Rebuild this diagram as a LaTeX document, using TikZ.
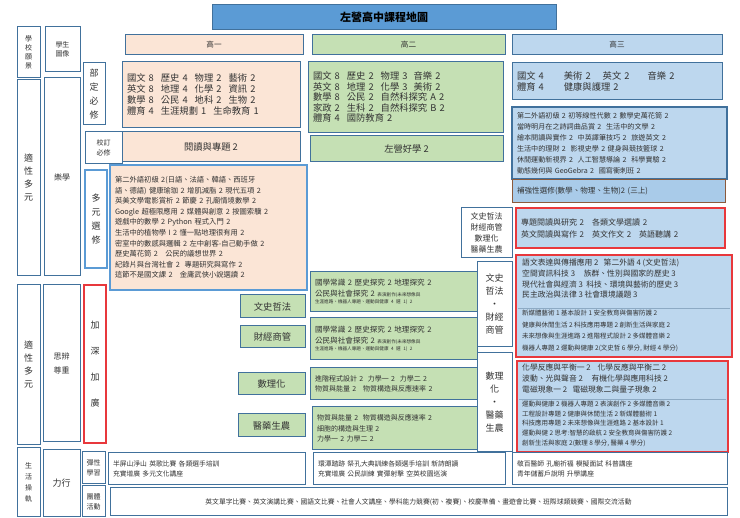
\documentclass[tikz,border=0pt]{standalone}
\usepackage{fontspec}
\setmainfont{Noto Sans CJK TC}
\begin{document}
\begin{tikzpicture}[x=1pt,y=-1pt]
\definecolor{bl}{HTML}{41719C}
\definecolor{pe}{HTML}{FBE5D6}
\definecolor{gr}{HTML}{C5E0B4}
\definecolor{lb}{HTML}{BDD7EE}
\definecolor{tb}{HTML}{5B9BD5}
\definecolor{rd}{HTML}{E8383C}
\definecolor{br}{HTML}{8B5A3C}
\definecolor{tx}{HTML}{333333}
\tikzset{
 bb/.style={draw=bl,line width=1pt,inner sep=0pt,text=tx},
 pp/.style={bb,fill=pe},
 gg/.style={bb,fill=gr},
 ll/.style={bb,fill=lb},
 rr/.style={draw=rd,line width=1.2pt,fill=lb,inner sep=0pt,text=tx},
 ww/.style={bb,fill=white},
 f1/.style={font=\fontsize{9.3}{15.5}\selectfont},
 f2/.style={font=\fontsize{7.6}{10.5}\selectfont},
}
\newcommand\bx[7]{\node[#6,minimum width={#4-#2},minimum height={#5-#3},align=center] (#1) at ({(#2+#4)/2},{(#3+#5)/2}) {#7};}
\newcommand\bxl[7]{\node[#6,minimum width={#4-#2},minimum height={#5-#3},text width={#4-#2-10},inner xsep=5pt,align=left] (#1) at ({(#2+#4)/2},{(#3+#5)/2}) {#7};}
\fill[white] (0,0) rectangle (740,518);
% title
\bx{title}{212}{5}{556}{30}{bb,fill=tb,text=black,font=\fontsize{11}{13}\selectfont\bfseries}{左營高中課程地圖}
\bx{vis}{17}{27}{40}{78}{ww,font=\fontsize{7}{9}\selectfont}{學\\校\\願\\景}
\bx{img}{45}{27}{80}{72}{ww,font=\fontsize{7}{9}\selectfont}{學生\\圖像}
\bx{g1}{125}{35}{303}{55}{pp,f2}{高一}
\bx{g2}{312}{35}{505}{55}{gg,f2}{高二}
\bx{g3}{512}{35}{722}{55}{ll,f2}{高三}
% left columns
\bx{sx1}{17}{80}{40}{276}{ww,font=\fontsize{9}{13}\selectfont}{適\\性\\多\\元}
\bx{lx}{44}{78}{80}{276}{ww,font=\fontsize{8}{10}\selectfont}{樂學}
\bx{bd}{83}{63}{105}{125}{ww,font=\fontsize{9}{14}\selectfont}{部\\定\\必\\修}
\bxl{r1}{122}{62}{300}{128}{pp,f1}{\begin{tabular}{@{}l@{\hspace{7pt}}l@{\hspace{7pt}}l@{\hspace{7pt}}l@{}}國文 8&歷史 4&物理 2&藝術 2\\[-4.5pt]英文 8&地理 4&化學 2&資訊 2\\[-4.5pt]數學 8&公民 4&地科 2&生物 2\\[-4.5pt]體育 4&\multicolumn{3}{@{}l}{生涯規劃 1\hspace{7pt}生命教育 1}\end{tabular}}
\bxl{r2}{308}{62}{503}{133}{gg,f1}{\begin{tabular}{@{}l@{\hspace{7pt}}l@{\hspace{7pt}}l@{}}國文 8&歷史 2&物理 3\hspace{6pt}音樂 2\\[-5pt]英文 8&地理 2&化學 3\hspace{6pt}美術 2\\[-5pt]數學 8&公民 2&自然科探究 A 2\\[-5pt]家政 2&生科 2&自然科探究 B 2\\[-5pt]體育 4&\multicolumn{2}{@{}l}{國防教育 2}\end{tabular}}
\bxl{r3}{512}{63}{722}{100}{ll,f1}{\begin{tabular}{@{}l@{\hspace{20pt}}l@{\hspace{12pt}}l@{\hspace{18pt}}l@{}}國文 4&美術 2&英文 2&音樂 2\\[-4.5pt]體育 4&\multicolumn{3}{@{}l}{健康與護理 2}\end{tabular}}
\bx{xd}{85}{132}{122}{164}{ww,font=\fontsize{7}{10}\selectfont}{校訂\\必修}
\bx{rd1}{122}{132}{300}{162}{pp,f1}{閱讀與專題 2}
\bx{zy}{310}{136}{503}{162}{gg,f1}{左營好學 2}
\bxl{e3}{512}{107}{727}{179}{ll,line width=1.4pt,font=\fontsize{7.1}{11}\selectfont}{第二外語初級 2 初等線性代數 2 數學史萬花筒 2\\當時明月在之詩詞曲品賞 2\ \ 生活中的文學 2\\繪本閱讀與實作 2\ \ 中英譯筆技巧 2\ \ 旅遊英文 2\\生活中的理財 2\ \ 影視史學 2 健身與競技籃球 2\\休閒運動新視界 2\ \ 人工智慧導論 2\ \ 科學實驗 2\\動態幾何與 GeoGebra 2\ \ 國寫衝刺班 2}
\bxl{bq}{512}{180}{725}{203}{ll,draw=br,f2,fill=lb!80!tb}{補強性選修(數學、物理、生物)2\ (三上)}
\bx{dy}{85}{170}{107}{268}{bb,fill=white,line width=1.4pt,draw=tb,font=\fontsize{9}{14}\selectfont}{多\\元\\選\\修}
\bxl{dl}{110}{165}{307}{290}{pp,draw=tb,line width=1.4pt,font=\fontsize{7.3}{10.6}\selectfont}{第二外語初級 2(日語、法語、韓語、西班牙\\語、德語) 健康瑜珈 2 增肌減脂 2 現代五項 2\\英美文學電影賞析 2 節慶\ 2\ 孔廟情境數學 2\\Google 超極限應用 2 媒體與創意 2 按圖索驥 2\\遊戲中的數學 2 Python 程式入門 2\\生活中的植物學 I 2\ 懂一點地理很有用 2\\密室中的數感與邏輯 2 左中創客-自己動手做 2\\歷史萬花筒\ 2\ \ \ 公民的議想世界\ 2\\紀錄片與台灣社會 2\ \ 專題研究與寫作 2\\這節不是國文課 2\ \ \ 金庸武俠小說選讀 2}
\bx{cat}{461}{208}{512}{258}{ww,font=\fontsize{8}{11}\selectfont}{文史哲法\\財經商管\\數理化\\醫藥生農}
\bxl{rb1}{516}{208}{725}{248}{rr,font=\fontsize{8}{12}\selectfont}{專題閱讀與研究 2\ \ \ 各類文學選讀 2\\英文閱讀與寫作 2\ \ \ 英文作文 2\ \ \ 英語聽講 2}
% lower left
\bx{sx2}{17}{285}{40}{445}{ww,font=\fontsize{9}{13}\selectfont}{適\\性\\多\\元}
\bx{sb}{43}{285}{80}{442}{ww,font=\fontsize{8}{14}\selectfont}{思辨\\尊重}
\bx{jh}{84}{285}{106}{443}{ww,draw=rd,line width=1.2pt,font=\fontsize{9}{26}\selectfont}{加\\深\\加\\廣}
\bx{la}{240}{295}{305}{318}{gg,f1}{文史哲法}
\bx{lb2}{240}{326}{305}{348}{gg,f1}{財經商管}
\bx{lc}{238}{373}{305}{395}{gg,f1}{數理化}
\bx{ld}{238}{414}{305}{437}{gg,f1}{醫藥生農}
\bxl{ga}{310}{272}{477}{312}{gg,f2}{國學常識 2 歷史探究\ 2\ 地理探究\ 2\\公民與社會探究\ 2 {\fontsize{4.6}{5}\selectfont 表演創作(未來想像與}\\[-3pt]{\fontsize{4.6}{5}\selectfont 生涯進路、機器人專題、運動與健康 4 選 1)\ 2}}
\bxl{gb}{310}{318}{477}{360}{gg,f2}{國學常識\ 2\ 歷史探究\ 2\ 地理探究\ 2\\公民與社會探究\ 2 {\fontsize{4.6}{5}\selectfont 表演創作(未來想像與}\\[-3pt]{\fontsize{4.6}{5}\selectfont 生涯進路、機器人專題、運動與健康 4 選 1)\ 2}}
\bxl{gc}{310}{368}{477}{400}{gg,font=\fontsize{7}{10}\selectfont}{進階程式設計 2\ \ 力學一\ 2\ \ 力學二 2\\物質與能量\ 2\ \ \ 物質構造與反應速率 2}
\bxl{gd}{312}{407}{477}{450}{gg,font=\fontsize{7}{10.5}\selectfont}{物質與能量\ 2\ \ 物質構造與反應速率 2\\細胞的構造與生理 2\\力學一 2\ 力學二 2}
\bx{ma}{477}{262}{512}{347}{ww,font=\fontsize{9}{13}\selectfont}{文史\\哲法\\・\\財經\\商管}
\bx{mb}{477}{353}{512}{452}{ww,font=\fontsize{9}{13}\selectfont}{數理\\化\\・\\醫藥\\生農}
\bx{rb2}{516}{255}{732}{357}{rr}{}
\draw[bl!60,line width=0.6pt] (518,308) -- (730,308);
\node[anchor=north west,inner sep=0pt,text=tx,align=left,font=\fontsize{7.8}{10.6}\selectfont] (rb2a) at (522,259) {語文表達與傳播應用 2\ \ \ 第二外語 4 (文史哲法)\\空間資訊科技 3\ \ \ \ \ 族群、性別與國家的歷史 3\\現代社會與經濟 3\ \ 科技、環境與藝術的歷史 3\\民主政治與法律 3\ 社會環境議題 3};
\node[anchor=north west,inner sep=0pt,text=tx,align=left,font=\fontsize{6.5}{11.6}\selectfont] (rb2b) at (522,310) {新媒體藝術 1 基本設計 1 安全教育與傷害防護 2\\健康與休閒生活 2 科技應用專題 2 創新生活與家庭 2\\未來想像與生涯進路 2 進階程式設計 2 多媒體音樂 2\\機器人專題 2 運動與健康 2(文史哲 6 學分, 財經 4 學分)};
\bx{rb3}{517}{361}{728}{452}{rr}{}
\draw[bl!60,line width=0.6pt] (519,399) -- (726,399);
\node[anchor=north west,inner sep=0pt,text=tx,align=left,font=\fontsize{7.8}{11}\selectfont] (rb3a) at (522,364) {化學反應與平衡一\ 2\ \ \ \ 化學反應與平衡二\ 2\\波動、光與聲音\ 2\ \ \ \ \ 有機化學與應用科技 2\\電磁現象一\ 2\ \ \ 電磁現象二與量子現象\ 2};
\node[anchor=north west,inner sep=0pt,text=tx,align=left,font=\fontsize{6.5}{9.6}\selectfont] (rb3b) at (522,401) {運動與健康 2 機器人專題\ 2\ 表演創作 2 多媒體音樂 2\\工程設計專題\ 2\ 健康與休閒生活\ 2\ 新媒體藝術 1\\科技應用專題 2\ 未來想像與生涯進路\ 2 基本設計 1\\運動與健 2 思考:智慧的啟航 2 安全教育與傷害防護 2\\創新生活與家庭 2(數理 8 學分, 醫藥 4 學分)};
% bottom
\bx{sh}{17}{448}{40}{517}{ww,font=\fontsize{7}{11}\selectfont}{生\\活\\操\\軌}
\bx{lxx}{43}{450}{80}{517}{ww,font=\fontsize{9}{11}\selectfont}{力行}
\bx{tx1}{82}{452}{105}{484}{ww,font=\fontsize{7}{10}\selectfont}{彈性\\學習}
\bx{tt}{82}{486}{105}{517}{ww,font=\fontsize{7}{10}\selectfont}{團體\\活動}
\bxl{fa}{108}{453}{305}{485}{ww,font=\fontsize{6.8}{10.5}\selectfont}{半屏山淨山\ 英歌比賽\ 各類選手培訓\\充實增廣\ 多元文化講座}
\bxl{fb}{313}{453}{505}{485}{ww,font=\fontsize{6.8}{10.5}\selectfont}{環潭踏跡\ 祭孔大典訓練各類選手培訓\ 新詩朗讀\\充實增廣\ 公民訓練\ 實彈射擊\ 空英校園巡演}
\bxl{fc}{512}{453}{727}{485}{ww,font=\fontsize{6.8}{10.5}\selectfont}{敬百醫師\ 孔廟祈福\ 模擬面試\ 科普講座\\青年儲蓄戶說明\ 升學講座}
\bx{fd}{110}{488}{727}{516}{ww,font=\fontsize{6.8}{10}\selectfont}{英文單字比賽、英文演講比賽、國語文比賽、社會人文講座、學科能力競賽(初、複賽)、校慶準備、畫遊會比賽、班際球類競賽、國際交流活動}
\end{tikzpicture}
\end{document}
